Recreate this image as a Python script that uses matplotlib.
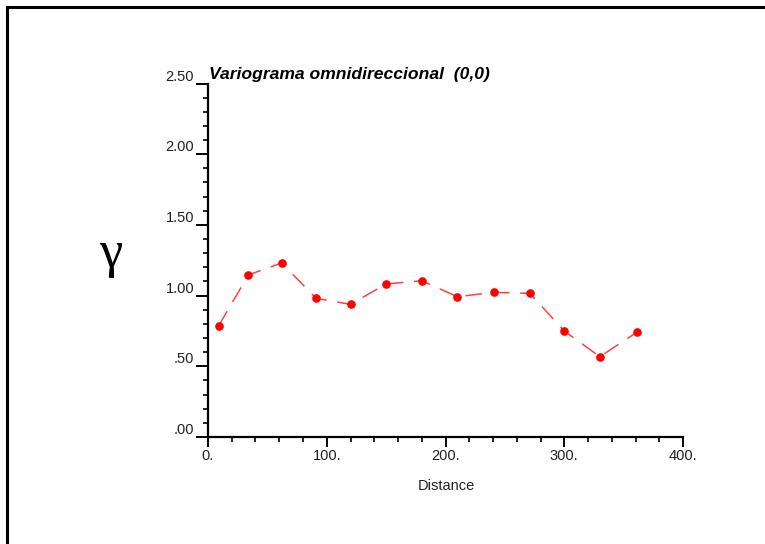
import matplotlib
matplotlib.use("Agg")
import matplotlib.pyplot as plt
from matplotlib.ticker import MultipleLocator, FixedLocator, FixedFormatter
from matplotlib.lines import Line2D

# Data
lag_distance = [9, 34, 62, 91, 120, 150, 180, 210, 241, 271, 300, 330, 361]
gamma_values = [0.787, 1.146, 1.231, 0.981, 0.938, 1.082, 1.105, 0.992, 1.023, 1.016, 0.750, 0.568, 0.740]

x_ticks = [0, 100, 200, 300, 400]
x_tick_labels = ["0.", "100.", "200.", "300.", "400."]
y_ticks = [0.0, 0.5, 1.0, 1.5, 2.0, 2.5]
y_tick_labels = [".00", ".50", "1.00", "1.50", "2.00", "2.50"]

title_text = "Variograma omnidireccional  (0,0)"
x_label = "Distance"
y_label = "γ"

plt.rcParams['font.family'] = ['Liberation Sans', 'DejaVu Sans']

W, H = 765, 544
fig = plt.figure(figsize=(W / 100, H / 100), dpi=100)
fig.patch.set_facecolor("white")

# outer frame (top and left edges)
def px(x, y):
    return x / W, 1 - y / H
for (x1, y1), (x2, y2) in [((7, 7), (765, 7)), ((7, 7), (7, 544))]:
    a, b = px(x1, y1)
    c, d = px(x2, y2)
    fig.add_artist(Line2D([a, c], [b, d], color="black", lw=2.2, transform=fig.transFigure))

left, right, bottom, top = 208 / W, 683 / W, 1 - 437 / H, 1 - 83.5 / H
ax = fig.add_axes([left, bottom, right - left, top - bottom])
ax.set_xlim(0, 400)
ax.set_ylim(0, 2.5)

ax.plot(lag_distance, gamma_values, color="#ff4040", lw=1.1, dashes=(11, 7),
        zorder=2, clip_on=False)
ax.plot(lag_distance, gamma_values, linestyle="none", marker="o", ms=5.2,
        color="#ff0000", markeredgecolor="#ff0000", zorder=3, clip_on=False)

for s in ["top", "right"]:
    ax.spines[s].set_visible(False)
for s in ["left", "bottom"]:
    ax.spines[s].set_linewidth(1.6)
    ax.spines[s].set_color("black")

ax.xaxis.set_major_locator(FixedLocator(x_ticks))
ax.xaxis.set_major_formatter(FixedFormatter(x_tick_labels))
ax.xaxis.set_minor_locator(MultipleLocator(20))
ax.yaxis.set_major_locator(FixedLocator(y_ticks))
ax.yaxis.set_major_formatter(FixedFormatter(y_tick_labels))
ax.yaxis.set_minor_locator(MultipleLocator(0.1))

ax.tick_params(axis="both", which="major", direction="out", length=7, width=1.4,
               labelsize=10.5, colors="black", labelcolor="#222222", pad=2)
ax.tick_params(axis="both", which="minor", direction="out", length=3.5, width=1.2,
               colors="black")
ax.tick_params(axis="y", which="major", length=9, pad=1)

for lab in ax.get_yticklabels():
    lab.set_verticalalignment("bottom")

ax.text(0.002, 1.003, title_text, transform=ax.transAxes, fontsize=12.6,
        fontweight="bold", fontstyle="italic", ha="left", va="bottom")

fig.text(446 / W, 1 - 486 / H, x_label, fontsize=10.5, ha="center", va="center",
         color="#222222")
fig.text(111 / W, 1 - 254 / H, y_label, fontsize=38, ha="center", va="center",
         family=["Liberation Serif", "DejaVu Serif"])

fig.savefig("out.png", dpi=100, facecolor="white")
